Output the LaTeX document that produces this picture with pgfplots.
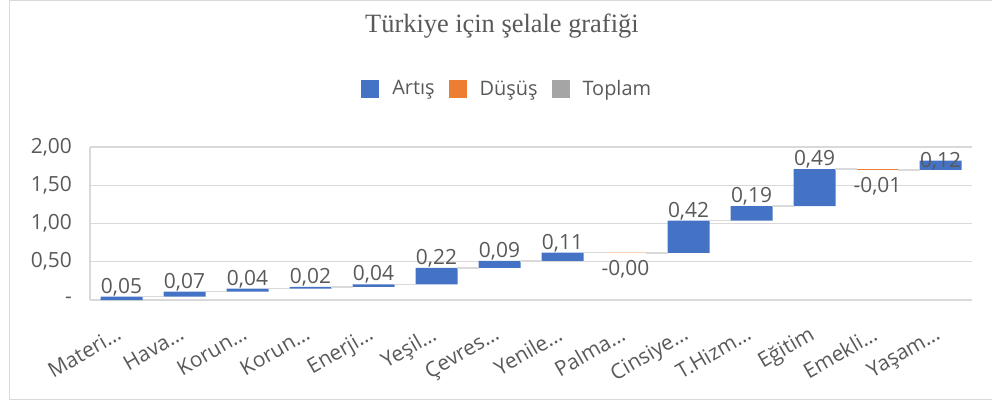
\documentclass[border=0pt]{standalone}
\usepackage{pgfplots}
\usepackage{pgfplotstable}
\pgfplotsset{compat=1.18}
\usepackage{fontspec}
\setmainfont{Open Sans}
\newfontfamily\titlefont{Liberation Serif}
\definecolor{cblue}{HTML}{4472C4}
\definecolor{corange}{HTML}{ED7D31}
\definecolor{cgray}{HTML}{A5A5A5}
\definecolor{gridc}{HTML}{D9D9D9}
\definecolor{txt}{HTML}{595959}
\newcommand\lbl{\fontsize{21}{25}\selectfont}
\newcommand\lgd{\fontsize{20}{24}\selectfont}

% waterfall: x, base (lower edge), increase, decrease
\pgfplotstableread{
x  base   inc    dec
0  0.000  0.045  0
1  0.045  0.065  0
2  0.110  0.040  0
3  0.150  0.020  0
4  0.170  0.035  0
5  0.205  0.215  0
6  0.420  0.090  0
7  0.510  0.110  0
8  0.616  0      0.004
9  0.616  0.420  0
10 1.036  0.190  0
11 1.226  0.485  0
12 1.701  0      0.010
13 1.701  0.120  0
}\wf

\pgfplotstableread{
x  y      l
0  0.045  0,05
1  0.110  0,07
2  0.150  0,04
3  0.170  0,02
4  0.205  0,04
5  0.420  0,22
6  0.510  0,09
7  0.620  0,11
9  1.036  0,42
10 1.226  0,19
11 1.711  0,49
}\poslab

\pgfplotstableread{
x  y      l
13 1.821  0,12
}\toplab

\pgfplotstableread{
x  y      l
8  0.616  -0,00
12 1.701  -0,01
}\neglab

\begin{document}
\begin{tikzpicture}
\path[use as bounding box] (0,0) rectangle (992bp,403bp);
\draw[gridc, line width=1bp] (9.5bp,3.5bp) rectangle (1010bp,402.5bp);
\begin{axis}[
  scale only axis, width=882bp, height=153bp,
  at={(90bp,103bp)}, anchor=south west,
  xmin=-0.5, xmax=13.5, ymin=0, ymax=2,
  ybar stacked, bar width=42bp,
  ytick={0,0.5,1,1.5,2},
  yticklabels={{-},{0,50},{1,00},{1,50},{2,00}},
  xtick={0,...,13},
  xticklabels={Materi…,Hava…,Korun…,Korun…,Enerji…,Yeşil…,Çevres…,Yenile…,Palma…,Cinsiye…,T.Hizm…,Eğitim,Emekli…,Yaşam…},
  major tick length=0pt,
  ymajorgrids, grid style={gridc, line width=1.3bp},
  axis x line*=bottom, axis y line*=left,
  axis line style={gridc, line width=1.3bp, -},
  tick label style={font=\lbl, text=txt},
  yticklabel style={anchor=east, inner sep=0pt, xshift=-18bp},
  xticklabel style={xshift=-6.5bp, yshift=-25bp, rotate=30, anchor=north east, inner sep=0pt},
  title={\titlefont\fontsize{26.5}{30}\selectfont Türkiye için şelale grafiği},
  title style={at={(rel axis cs:0.467,1.752)}, anchor=center, text=txt, inner sep=0pt},
  legend columns=3,
  legend style={at={(rel axis cs:0.473,1.382)}, anchor=center, draw=none, fill=none,
    font=\lgd, text=txt,
    /tikz/every even column/.append style={column sep=12bp},
    /tikz/every odd column/.append style={column sep=11bp}},
  clip=false,
]
\addplot[fill=none, draw=none, forget plot] table[x=x, y=base] {\wf};
\addplot[fill=cblue, draw=none, forget plot] table[x=x, y=inc] {\wf};
\addplot[fill=corange, draw=none, forget plot] table[x=x, y=dec] {\wf};
\addlegendimage{fill=cblue, draw=none, legend image code/.code={\fill[cblue] (0bp,-9bp) rectangle (18bp,9bp);}}
\addlegendentry{Artış}
\addlegendimage{fill=corange, draw=none, legend image code/.code={\fill[corange] (0bp,-9bp) rectangle (18bp,9bp);}}
\addlegendentry{Düşüş}
\addlegendimage{fill=cgray, draw=none, legend image code/.code={\fill[cgray] (0bp,-9bp) rectangle (18bp,9bp);}}
\addlegendentry{Toplam}
\end{axis}
\begin{axis}[
  scale only axis, width=882bp, height=153bp,
  at={(90bp,103bp)}, anchor=south west,
  xmin=-0.5, xmax=13.5, ymin=0, ymax=2,
  hide axis, clip=false,
]
\addplot[gridc, line width=1.5bp, unbounded coords=jump, mark=none] coordinates {
 (0.333,0.045) (0.667,0.045) (1,nan)
 (1.333,0.110) (1.667,0.110) (2,nan)
 (2.333,0.150) (2.667,0.150) (3,nan)
 (3.333,0.170) (3.667,0.170) (4,nan)
 (4.333,0.205) (4.667,0.205) (5,nan)
 (5.333,0.420) (5.667,0.420) (6,nan)
 (6.333,0.510) (6.667,0.510) (7,nan)
 (7.333,0.620) (7.667,0.620) (8,nan)
 (8.333,0.616) (8.667,0.616) (9,nan)
 (9.333,1.036) (9.667,1.036) (10,nan)
 (10.333,1.226) (10.667,1.226) (11,nan)
 (11.333,1.711) (11.667,1.711) (12,nan)
 (12.333,1.701) (12.667,1.701)
};
\addplot[draw=none, mark=none, nodes near coords, point meta=explicit symbolic,
  nodes near coords style={anchor=south, font=\lbl, text=txt, inner sep=0pt, yshift=0.5bp}]
  table[x=x, y=y, meta=l] {\poslab};
\addplot[draw=none, mark=none, nodes near coords, point meta=explicit symbolic,
  nodes near coords style={anchor=center, font=\lbl, text=txt, inner sep=0pt, yshift=-1bp}]
  table[x=x, y=y, meta=l] {\toplab};
\addplot[draw=none, mark=none, nodes near coords, point meta=explicit symbolic,
  nodes near coords style={anchor=north, font=\lbl, text=txt, inner sep=0pt, yshift=-7bp}]
  table[x=x, y=y, meta=l] {\neglab};
\end{axis}
\end{tikzpicture}
\end{document}
